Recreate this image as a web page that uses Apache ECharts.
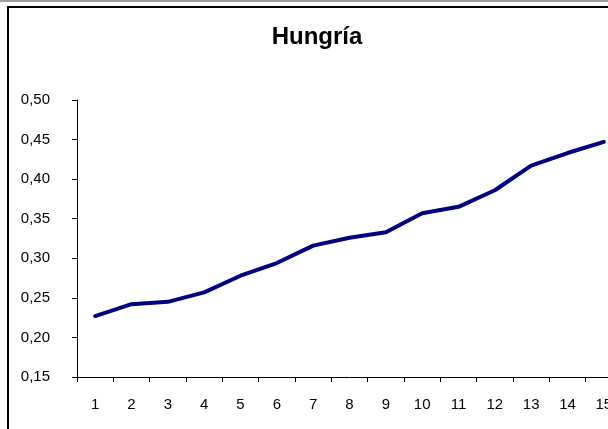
<!DOCTYPE html>
<html>
<head>
<meta charset="utf-8">
<script src="https://cdn.jsdelivr.net/npm/echarts@6/dist/echarts.min.js"></script>
<style>
  html, body { margin: 0; padding: 0; background: #fff; overflow: hidden; }
  /* wider than the window: the plot runs past the right edge like the original */
  #chart { width: 660px; height: 429px; }
</style>
</head>
<body>
<div id="chart"></div>
<script>
// periods along the x axis
const categories = ['1', '2', '3', '4', '5', '6', '7', '8', '9', '10', '11', '12', '13', '14', '15']
// Hungría series
const hungria = [0.227, 0.242, 0.245, 0.257, 0.278, 0.294, 0.316, 0.326, 0.333, 0.357, 0.365, 0.386, 0.417, 0.433, 0.447]
const yMin = 0.15
const yMax = 0.5
const yStep = 0.05

const chart = echarts.init(document.getElementById('chart'))
const fontFamily = '"Liberation Sans", Arial, sans-serif'

chart.setOption({
  animation: false,
  backgroundColor: '#fff',
  graphic: [
    // top grey strip and the black chart-area frame (cut off right and bottom)
    { type: 'rect', shape: { x: 0, y: 0, width: 660, height: 2 }, style: { fill: '#a0a0a0' }, silent: true },
    { type: 'rect', shape: { x: 8, y: 7, width: 700, height: 460 }, style: { fill: 'none', stroke: '#000', lineWidth: 2 }, silent: true },
    {
      type: 'text',
      x: 317,
      y: 37,
      style: {
        text: 'Hungría',
        fontFamily,
        fontSize: 24,
        fontWeight: 'bold',
        fill: '#000',
        align: 'center',
        verticalAlign: 'middle',
      },
      silent: true,
    },
  ],
  grid: {
    left: 77,
    top: 100,
    width: 545,
    height: 277,
  },
  xAxis: {
    type: 'category',
    data: categories,
    boundaryGap: true,
    axisLine: { lineStyle: { color: '#000', width: 1 } },
    axisTick: { show: true, length: 5, inside: false, lineStyle: { color: '#000' } },
    axisLabel: { color: '#000', fontFamily, fontSize: 15, margin: 20 },
    splitLine: { show: false },
  },
  yAxis: {
    type: 'value',
    min: yMin,
    max: yMax,
    interval: yStep,
    axisLine: { show: true, lineStyle: { color: '#000', width: 1 } },
    axisTick: { show: true, length: 5, lineStyle: { color: '#000' } },
    axisLabel: {
      color: '#000',
      fontFamily,
      fontSize: 15,
      margin: 27,
      formatter: (v) => v.toFixed(2).replace('.', ','),
    },
    splitLine: { show: false },
  },
  series: [
    {
      type: 'line',
      data: hungria,
      showSymbol: false,
      smooth: false,
      lineStyle: { color: '#000080', width: 4, cap: 'round', join: 'round' },
    },
  ],
})
</script>
</body>
</html>
